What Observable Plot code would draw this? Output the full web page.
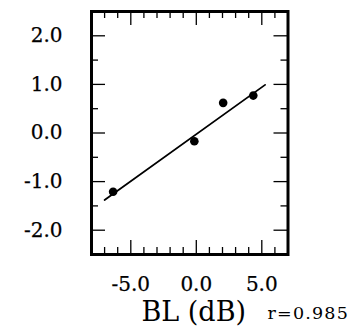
<!DOCTYPE html>
<html>
<head>
<meta charset="utf-8">
<script src="https://cdn.jsdelivr.net/npm/d3@7"></script>
<script src="https://cdn.jsdelivr.net/npm/@observablehq/plot@0.6"></script>
<style>
  html, body { margin: 0; padding: 0; background: #fff; }
  svg { display: block; }
</style>
</head>
<body>
<div id="chart"></div>
<script>
// Data
const bl = [-6.35, -0.15, 2.05, 4.35];        // BL (dB)
const val = [-1.21, -0.17, 0.62, 0.77];       // y values
const fitX = [-7.0, 5.25];                     // regression line ends (x)
const fitY = [-1.38, 0.99];                    // regression line ends (y)
const xMajor = [-5, 0, 5];
const xMinor = [-7, -6, -4, -3, -2, -1, 1, 2, 3, 4, 6];
const yMajor = [-2, -1, 0, 1, 2];
const yMinor = [-1.5, -0.5, 0.5, 1.5];
const xTitle = "BL (dB)";
const rText = "r=0.985";

const W = 353, H = 328;
const mL = 91, mR = 65.5, mT = 11, mB = 74;
const iw = W - mL - mR, ih = H - mT - mB;
const font = "DejaVu Serif";
const fmt = d => d.toFixed(1);

const points = bl.map((x, i) => ({x, y: val[i]}));
const fit = fitX.map((x, i) => ({x, y: fitY[i]}));

const chart = Plot.plot({
  width: W, height: H,
  marginLeft: mL, marginRight: mR, marginTop: mT, marginBottom: mB,
  style: {fontFamily: font, background: "#fff", color: "#000"},
  x: {domain: [-8, 7], label: null},
  y: {domain: [-2.5, 2.5], label: null},
  marks: [
    // inward ticks
    Plot.ruleY(yMajor, {y: d => d, insetRight: iw - 14, stroke: "#000", strokeWidth: 1.3}),
    Plot.ruleY(yMajor, {y: d => d, insetLeft: iw - 14, stroke: "#000", strokeWidth: 1.3}),
    Plot.ruleY(yMinor, {y: d => d, insetRight: iw - 7, stroke: "#000", strokeWidth: 1.3}),
    Plot.ruleY(yMinor, {y: d => d, insetLeft: iw - 7, stroke: "#000", strokeWidth: 1.3}),
    Plot.ruleX(xMajor, {x: d => d, insetTop: ih - 14, stroke: "#000", strokeWidth: 1.3}),
    Plot.ruleX(xMajor, {x: d => d, insetBottom: ih - 14, stroke: "#000", strokeWidth: 1.3}),
    Plot.ruleX(xMinor, {x: d => d, insetTop: ih - 7, stroke: "#000", strokeWidth: 1.3}),
    Plot.ruleX(xMinor, {x: d => d, insetBottom: ih - 7, stroke: "#000", strokeWidth: 1.3}),
    // tick labels
    Plot.axisY(yMajor, {tickSize: 0, tickPadding: 29, tickFormat: fmt, fontSize: 20, label: null, className: "ticklab"}),
    Plot.axisX(xMajor, {tickSize: 0, tickPadding: 22, tickFormat: fmt, fontSize: 20, label: null, className: "ticklab"}),
    // frame
    Plot.frame({stroke: "#000", strokeWidth: 3}),
    // fit line and points
    Plot.line(fit, {x: "x", y: "y", stroke: "#000", strokeWidth: 1.8}),
    Plot.dot(points, {x: "x", y: "y", r: 4.3, fill: "#000", stroke: null}),
    // titles
    Plot.text([xTitle], {text: d => d, frameAnchor: "bottom", dx: 4, dy: 66, fontSize: 27, lineAnchor: "bottom", className: "xtitle"}),
    Plot.text([rText], {text: d => d, frameAnchor: "bottom-right", dx: -20.5, dy: 64, fontSize: 17.5, lineAnchor: "bottom", textAnchor: "start", className: "rlabel"})
  ]
});
d3.select(chart).selectAll(".rlabel text").attr("letter-spacing", 1.2);
d3.select(chart).selectAll(".ticklab text").attr("stroke", "#000").attr("stroke-width", 0.25);
document.getElementById("chart").appendChild(chart);
</script>
</body>
</html>
